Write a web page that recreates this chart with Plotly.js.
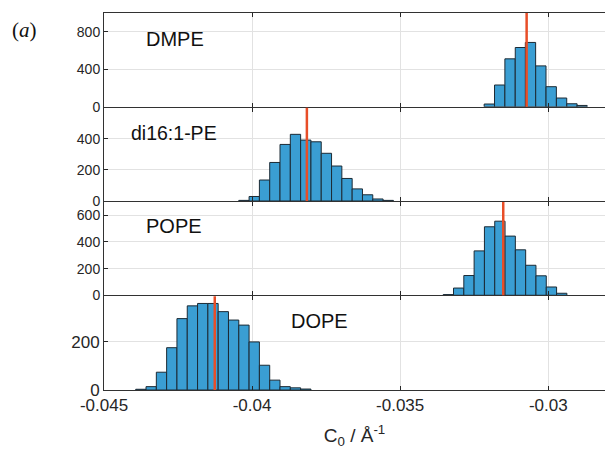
<!DOCTYPE html>
<html>
<head>
<meta charset="utf-8">
<script src="https://cdn.plot.ly/plotly-3.0.1.min.js"></script>
<style>html,body{margin:0;padding:0;background:#fff;}#chart{width:605px;height:455px;}</style>
</head>
<body>
<div id="chart"></div>
<script>
// ---- data ----
const lipids = ["DMPE", "di16:1-PE", "POPE", "DOPE"];
const binWidth = 0.000348;

const dmpeCenters = [-0.03199, -0.03164, -0.03129, -0.03094, -0.03060, -0.03025, -0.02990, -0.02955, -0.02920, -0.02886];
const dmpeCounts  = [29, 232, 511, 632, 686, 436, 214, 93, 32, 14];
const dmpeMean = -0.03073;

const di16Centers = [-0.040275, -0.039927, -0.039579, -0.039231, -0.038883, -0.038535, -0.038187, -0.037839, -0.037491, -0.037143, -0.036795, -0.036447, -0.036099, -0.035751, -0.035403];
const di16Counts  = [4, 29, 135, 248, 364, 429, 392, 381, 307, 225, 145, 78, 40, 13, 4];
const di16Mean = -0.03815;

const popeCenters = [-0.033373, -0.033025, -0.032677, -0.032329, -0.031981, -0.031633, -0.031285, -0.030937, -0.030589, -0.030241, -0.029893, -0.029545];
const popeCounts  = [5, 54, 148, 333, 514, 556, 444, 341, 225, 146, 62, 15];
const popeMean = -0.03152;

const dopeCenters = [-0.043755, -0.043407, -0.043059, -0.042711, -0.042363, -0.042015, -0.041667, -0.041319, -0.040971, -0.040623, -0.040275, -0.039927, -0.039579, -0.039231, -0.038883, -0.038535, -0.038187];
const dopeCounts  = [3, 14, 74, 176, 297, 350, 360, 360, 326, 291, 270, 200, 103, 41, 14, 9, 4];
const dopeMean = -0.04126;

const xTickVals = [-0.045, -0.04, -0.035, -0.03];
const xTickText = ["-0.045", "-0.04", "-0.035", "-0.03"];
const yTicks1 = [0, 400, 800];
const yTicks2 = [0, 200, 400];
const yTicks3 = [0, 200, 400, 600];
const yTicks4 = [0, 200];

// ---- styling ----
const FONT = "Liberation Sans, Arial, sans-serif";
const AX = "rgb(38,38,38)";
const LINE = "rgb(50,50,50)";
const GRID = "rgb(226,226,226)";
const BAR = "rgb(58,158,211)";
const EDGE = "rgb(28,42,52)";
const RED = "rgb(232,78,40)";

const sets = [
  {c: dmpeCenters, n: dmpeCounts, m: dmpeMean},
  {c: di16Centers, n: di16Counts, m: di16Mean},
  {c: popeCenters, n: popeCounts, m: popeMean},
  {c: dopeCenters, n: dopeCounts, m: dopeMean}
];

const traces = sets.map((s, i) => ({
  type: "bar",
  x: s.c, y: s.n, width: binWidth,
  xaxis: i === 0 ? "x" : "x" + (i + 1),
  yaxis: i === 0 ? "y" : "y" + (i + 1),
  marker: {color: BAR, line: {color: EDGE, width: 1}},
  hoverinfo: "x+y", showlegend: false
}));

const xRange = [-0.045, -0.028084];
function xax(i) {
  return {
    range: xRange, domain: [0, 1],
    anchor: i === 0 ? "y" : "y" + (i + 1),
    matches: i === 0 ? undefined : "x",
    tickvals: xTickVals, ticktext: xTickText,
    showticklabels: i === 3,
    tickfont: {family: FONT, size: 17, color: AX},
    ticks: "inside", ticklen: 4, tickcolor: AX, tickwidth: 1,
    showline: true, linecolor: LINE, linewidth: 1, mirror: "ticks",
    showgrid: true, gridcolor: GRID, gridwidth: 1, zeroline: false,
    title: i === 3 ? {text: "C<sub>0</sub> / Å<sup>-1</sup>", font: {family: FONT, size: 19, color: AX}, standoff: 14} : undefined
  };
}
const yRanges = [[0, 1000], [0, 600], [0, 700], [0, 390]];
const yTicksAll = [yTicks1, yTicks2, yTicks3, yTicks4];
const PLOT_H = 377;
const gap = 1 / PLOT_H; // one-pixel gap so neighbouring frame lines coincide
function yax(i) {
  const lo = (3 - i) * 0.25 + (i === 3 ? 0 : gap / 2);
  const hi = (4 - i) * 0.25 - (i === 0 ? 0 : gap / 2);
  return {
    range: yRanges[i],
    domain: [lo, hi],
    anchor: i === 0 ? "x" : "x" + (i + 1),
    tickvals: yTicksAll[i],
    tickfont: {family: FONT, size: i === 3 ? 17 : 14, color: AX},
    ticks: "inside", ticklen: 4, tickcolor: AX, tickwidth: 1,
    showline: true, linecolor: LINE, linewidth: 1, mirror: false,
    showgrid: true, gridcolor: GRID, gridwidth: 1, zeroline: false,
    fixedrange: true
  };
}

const layout = {
  width: 605, height: 455,
  margin: {l: 104, r: 0, t: 13, b: 65, pad: 0},
  paper_bgcolor: "#fff", plot_bgcolor: "#fff",
  bargap: 0, showlegend: false,
  font: {family: FONT, color: AX},
  shapes: sets.map((s, i) => ({
    type: "line", xref: i === 0 ? "x" : "x" + (i + 1),
    yref: (i === 0 ? "y" : "y" + (i + 1)) + " domain",
    x0: s.m, x1: s.m, y0: 0, y1: 1,
    line: {color: RED, width: 2.5}
  })),
  annotations: [
    {text: "(<i>a</i>)", xref: "paper", yref: "paper", x: -0.187, y: 0.955, xanchor: "left", yanchor: "middle",
     showarrow: false, font: {family: "Liberation Serif, Times New Roman, serif", size: 21, color: "#111"}},
    {text: lipids[0], xref: "x domain", yref: "y domain", x: 0.079, y: 0.72, xanchor: "left", yanchor: "middle", showarrow: false, font: {family: FONT, size: 20, color: "#111"}},
    {text: lipids[1], xref: "x2 domain", yref: "y2 domain", x: 0.049, y: 0.73, xanchor: "left", yanchor: "middle", showarrow: false, font: {family: FONT, size: 19.5, color: "#111"}},
    {text: lipids[2], xref: "x3 domain", yref: "y3 domain", x: 0.079, y: 0.745, xanchor: "left", yanchor: "middle", showarrow: false, font: {family: FONT, size: 20, color: "#111"}},
    {text: lipids[3], xref: "x4 domain", yref: "y4 domain", x: 0.369, y: 0.738, xanchor: "left", yanchor: "middle", showarrow: false, font: {family: FONT, size: 20, color: "#111"}}
  ]
};
for (let i = 0; i < 4; i++) {
  layout[i === 0 ? "xaxis" : "xaxis" + (i + 1)] = xax(i);
  layout[i === 0 ? "yaxis" : "yaxis" + (i + 1)] = yax(i);
}

Plotly.newPlot("chart", traces, layout, {staticPlot: true, displayModeBar: false});
</script>
</body>
</html>
